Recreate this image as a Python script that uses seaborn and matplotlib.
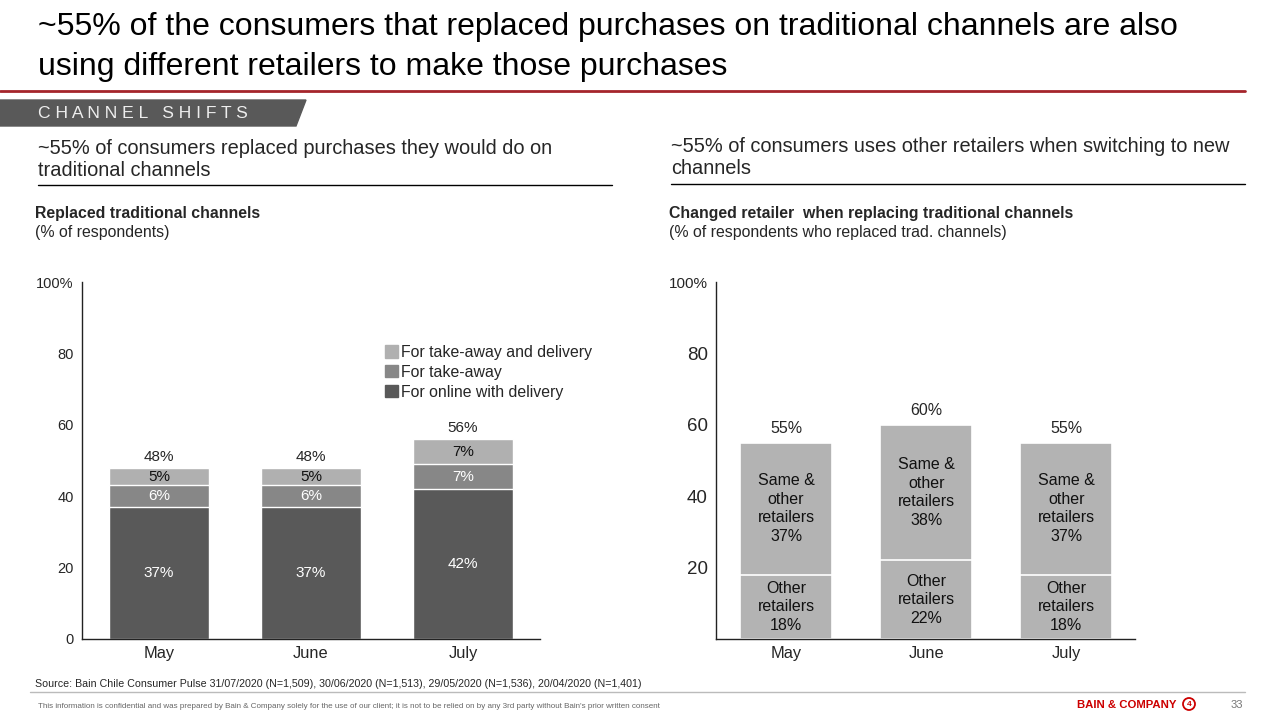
import seaborn as sns
import pandas as pd
import matplotlib.pyplot as plt
from matplotlib.patches import Patch, Polygon, Ellipse
from matplotlib.lines import Line2D

# data
months = ["May", "June", "July"]
online_delivery = [37, 37, 42]
take_away = [6, 6, 7]
takeaway_and_delivery = [5, 5, 7]

other_retailers = [18, 22, 18]
same_and_other = [37, 38, 37]

y_ticks = [0, 20, 40, 60, 80, 100]
y_ticklabels = ["0", "20", "40", "60", "80", "100%"]

dark = "#595959"
mid = "#878787"
light = "#b0b0b0"
grey_r = "#b3b3b3"
red = "#a5252b"

sns.set_style("white")
plt.rcParams["font.family"] = ["Liberation Sans", "DejaVu Sans"]

W, H = 1280, 720
fig = plt.figure(figsize=(12.8, 7.2), dpi=100)


def fx(px):
    return px / W


def fy(py):
    return 1 - py / H


# ---- header ----
fig.text(fx(38), fy(27), "~55% of the consumers that replaced purchases on traditional channels are also",
         fontsize=23, va="center", ha="left", color="black")
fig.text(fx(38), fy(67), "using different retailers to make those purchases",
         fontsize=23, va="center", ha="left", color="black")
fig.add_artist(Line2D([0, fx(1245)], [fy(91), fy(91)], color=red, lw=2))

banner = Polygon([(0, fy(100)), (fx(306), fy(100)), (fx(296), fy(126)), (0, fy(126))],
                 closed=True, color=dark, transform=fig.transFigure)
fig.add_artist(banner)
fig.text(fx(38), fy(113), "C H A N N E L   S H I F T S", fontsize=12.6, color="#eeeeee",
         va="center", ha="left")

# ---- sub headers ----
fig.text(fx(38), fy(149), "~55% of consumers replaced purchases they would do on", fontsize=14.4, va="center")
fig.text(fx(38), fy(171), "traditional channels", fontsize=14.4, va="center")
fig.add_artist(Line2D([fx(38), fx(612)], [fy(185), fy(185)], color="black", lw=1))

fig.text(fx(671), fy(147), "~55% of consumers uses other retailers when switching to new", fontsize=14.4,
         va="center")
fig.text(fx(671), fy(169), "channels", fontsize=14.4, va="center")
fig.add_artist(Line2D([fx(671), fx(1245)], [fy(184), fy(184)], color="black", lw=1))

fig.text(fx(35), fy(213), "Replaced traditional channels", fontsize=11.4, fontweight="bold", va="center")
fig.text(fx(35), fy(232), "(% of respondents)", fontsize=11.4, va="center")
fig.text(fx(669), fy(213), "Changed retailer  when replacing traditional channels", fontsize=11.4,
         fontweight="bold", va="center")
fig.text(fx(669), fy(232), "(% of respondents who replaced trad. channels)", fontsize=11.4, va="center")

# ---- left chart ----
ax1 = fig.add_axes([fx(82), fy(639), fx(540 - 82), (639 - 282) / H])
df1 = pd.DataFrame({"month": months, "online": online_delivery,
                    "take_away": take_away, "both": takeaway_and_delivery})
df1["lvl2"] = df1["online"] + df1["take_away"]
df1["total"] = df1["lvl2"] + df1["both"]

bw = 100 / 152
for col, c in [("total", light), ("lvl2", mid), ("online", dark)]:
    sns.barplot(data=df1, x="month", y=col, order=months, color=c, width=bw,
                saturation=1, edgecolor="white", linewidth=1, ax=ax1)

for i, row in df1.iterrows():
    ax1.text(i, row["online"] / 2, f"{row['online']}%", ha="center", va="center",
             color="white", fontsize=11)
    ax1.text(i, row["online"] + row["take_away"] / 2, f"{row['take_away']}%", ha="center",
             va="center", color="white", fontsize=11)
    ax1.text(i, row["lvl2"] + row["both"] / 2, f"{row['both']}%", ha="center", va="center",
             color="#111111", fontsize=11)
    ax1.annotate(f"{row['total']}%", (i, row["total"]), xytext=(0, 8), textcoords="offset points",
                 ha="center", va="center", fontsize=11)

ax1.set_xlim(-0.507, 2.507)
ax1.set_ylim(0, 100)
ax1.set_yticks(y_ticks)
ax1.set_yticklabels(y_ticklabels)
ax1.tick_params(axis="y", length=0, pad=6, labelsize=10.5)
ax1.tick_params(axis="x", length=0, pad=5, labelsize=11.8)
ax1.set_xlabel("")
ax1.set_ylabel("")
for s in ["top", "right"]:
    ax1.spines[s].set_visible(False)
for s in ["left", "bottom"]:
    ax1.spines[s].set_color("#222222")
    ax1.spines[s].set_linewidth(1)

handles = [Patch(color=light, label="For take-away and delivery"),
           Patch(color=mid, label="For take-away"),
           Patch(color=dark, label="For online with delivery")]
ax1.legend(handles=handles, loc="upper left", bbox_to_anchor=(fx(385), fy(345)),
           bbox_transform=fig.transFigure, frameon=False, fontsize=11.4,
           handlelength=0.8, handleheight=0.8, handletextpad=0.2, labelspacing=0.3,
           borderaxespad=0, borderpad=0)

# ---- right chart ----
ax2 = fig.add_axes([fx(716), fy(639), fx(1135 - 716), (639 - 282) / H])
df2 = pd.DataFrame({"month": months, "other": other_retailers, "same": same_and_other})
df2["total"] = df2["other"] + df2["same"]

bw2 = 92 / 140
for col in ["total", "other"]:
    sns.barplot(data=df2, x="month", y=col, order=months, color=grey_r, width=bw2,
                saturation=1, edgecolor="white", linewidth=1.2, ax=ax2)

for i, row in df2.iterrows():
    ax2.text(i, row["other"] / 2, f"Other\nretailers\n{row['other']}%", ha="center", va="center",
             fontsize=11.5, linespacing=1.3, color="#111111")
    ax2.text(i, row["other"] + row["same"] / 2, f"Same &\nother\nretailers\n{row['same']}%",
             ha="center", va="center", fontsize=11.5, linespacing=1.3, color="#111111")
    ax2.annotate(f"{row['total']}%", (i, row["total"]), xytext=(0, 10), textcoords="offset points",
                 ha="center", va="center", fontsize=11.5)

ax2.set_xlim(-0.5, 2.49)
ax2.set_ylim(0, 100)
ax2.set_yticks(y_ticks[1:])
ax2.set_yticklabels(y_ticklabels[1:])
ax2.tick_params(axis="y", length=0, pad=6, labelsize=13.5)
ax2.tick_params(axis="x", length=0, pad=5, labelsize=11.8)
ax2.set_xlabel("")
ax2.set_ylabel("")
ax2.yaxis.get_ticklabels()[-1].set_fontsize(11)
for s in ["top", "right"]:
    ax2.spines[s].set_visible(False)
for s in ["left", "bottom"]:
    ax2.spines[s].set_color("#222222")
    ax2.spines[s].set_linewidth(1)

# ---- footer ----
fig.text(fx(35), fy(684), "Source: Bain Chile Consumer Pulse 31/07/2020 (N=1,509), 30/06/2020 (N=1,513), "
         "29/05/2020 (N=1,536), 20/04/2020 (N=1,401)", fontsize=7.7, va="center")
fig.add_artist(Line2D([fx(30), fx(1245)], [fy(692), fy(692)], color="#bbbbbb", lw=1))
fig.text(fx(38), fy(706), "This information is confidential and was prepared by Bain & Company solely for the use "
         "of our client; it is not to be relied on by any 3rd party without Bain's prior written consent",
         fontsize=5.8, color="#666666", va="center")
fig.text(fx(1077), fy(705), "BAIN & COMPANY", fontsize=8.2, fontweight="bold", color="#cc0000",
         va="center")
fig.add_artist(Ellipse((fx(1189), fy(704)), fx(12), 12 / H, fill=False, edgecolor="#cc0000", lw=1.3,
                       transform=fig.transFigure))
fig.text(fx(1189), fy(704), "4", fontsize=6, fontweight="bold", color="#cc0000", ha="center", va="center")
fig.text(fx(1243), fy(705), "33", fontsize=8, color="#777777", va="center", ha="right")

fig.savefig("out.png", dpi=100)
